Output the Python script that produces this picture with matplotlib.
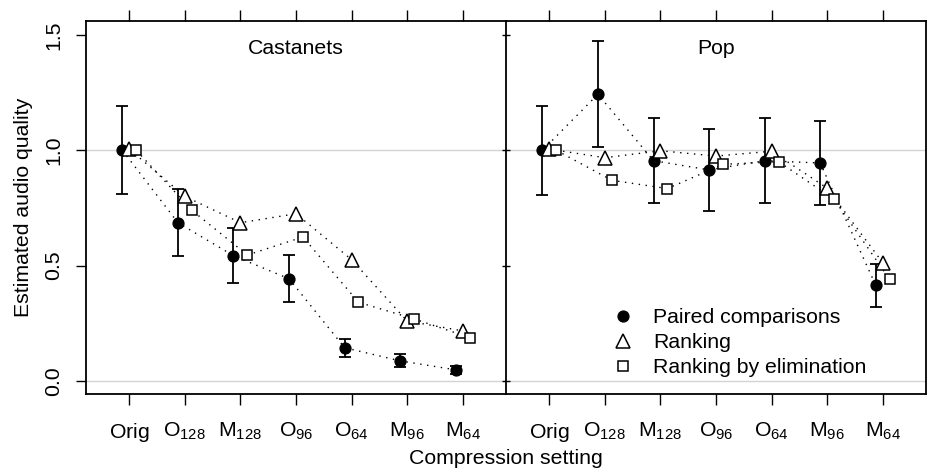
import matplotlib
matplotlib.use("Agg")
import matplotlib.pyplot as plt
import numpy as np
from matplotlib.lines import Line2D

plt.rcParams['font.family'] = ['Liberation Sans', 'DejaVu Sans']
plt.rcParams['mathtext.fontset'] = 'custom'
plt.rcParams['mathtext.rm'] = 'Liberation Sans'
plt.rcParams['mathtext.it'] = 'Liberation Sans'

categories = ['Orig', 'O_{128}', 'M_{128}', 'O_{96}', 'O_{64}', 'M_{96}', 'M_{64}']
tick_labels = [r'$\mathregular{%s}$' % c for c in categories]
panels = ['Castanets', 'Pop']
series_names = ['Paired comparisons', 'Ranking', 'Ranking by elimination']

# Castanets
cas_paired = [1.00, 0.686, 0.543, 0.443, 0.144, 0.087, 0.048]
cas_paired_lo = [0.81, 0.542, 0.423, 0.344, 0.105, 0.062, 0.032]
cas_paired_hi = [1.19, 0.832, 0.662, 0.547, 0.183, 0.117, 0.065]
cas_rank = [1.005, 0.80, 0.686, 0.725, 0.526, 0.26, 0.217]
cas_elim = [1.00, 0.74, 0.546, 0.624, 0.341, 0.269, 0.188]

# Pop
pop_paired = [1.00, 1.243, 0.955, 0.915, 0.955, 0.945, 0.415]
pop_paired_lo = [0.808, 1.014, 0.772, 0.737, 0.772, 0.763, 0.319]
pop_paired_hi = [1.193, 1.472, 1.139, 1.091, 1.139, 1.128, 0.508]
pop_rank = [1.005, 0.968, 0.998, 0.975, 0.996, 0.836, 0.513]
pop_elim = [1.00, 0.870, 0.834, 0.939, 0.951, 0.788, 0.441]

data = {
    'Castanets': (cas_paired, cas_paired_lo, cas_paired_hi, cas_rank, cas_elim),
    'Pop': (pop_paired, pop_paired_lo, pop_paired_hi, pop_rank, pop_elim),
}

W, H = 927, 471
fig = plt.figure(figsize=(W / 100, H / 100), dpi=100)
left_px, sep_px, right_px = 86, 506, 926
top_px, bot_px = 20.7, 394.3
axw = (sep_px - left_px) / W
axh = (bot_px - top_px) / H
axb = (H - bot_px) / H
ax1 = fig.add_axes([left_px / W, axb, axw, axh])
ax2 = fig.add_axes([sep_px / W, axb, (right_px - sep_px) / W, axh])

FS = 15.3
x = np.arange(1, len(categories) + 1)
off = 0.125
dot = (0, (1, 4))

for i, (ax, name) in enumerate(zip([ax1, ax2], panels)):
    p, lo, hi, r, e = [np.array(v) for v in data[name]]
    ax.axhline(1.0, color='#d3d3d3', lw=1.0, zorder=0)
    ax.axhline(0.0, color='#d3d3d3', lw=1.0, zorder=0)
    ax.plot(x - off, p, color='black', lw=1.0, ls=dot, zorder=1)
    ax.plot(x, r, color='black', lw=1.0, ls=dot, zorder=1)
    ax.plot(x + off, e, color='black', lw=1.0, ls=dot, zorder=1)
    ax.errorbar(x - off, p, yerr=[p - lo, hi - p], fmt='none', ecolor='black',
                elinewidth=1.3, capsize=4.5, capthick=1.3, zorder=2)
    ax.plot(x - off, p, 'o', color='black', ms=7.8, zorder=3, ls='none')
    ax.plot(x, r, '^', mfc='white', mec='black', mew=1.1, ms=9.5, zorder=3, ls='none')
    ax.plot(x + off, e, 's', mfc='white', mec='black', mew=1.1, ms=7.0, zorder=3, ls='none')
    ax.set_xlim(0.22, 7.78)
    ax.set_ylim(-0.058, 1.562)
    ax.text(0.5, 0.925, name, transform=ax.transAxes, ha='center', va='center', fontsize=FS)
    ax.set_xticks(x)
    ax.set_xticklabels(tick_labels, fontsize=FS)
    ax.tick_params(axis='x', which='both', top=True, bottom=True, direction='out',
                   length=8, width=1.0, pad=11)
    ax.set_yticks([0.0, 0.5, 1.0, 1.5])
    for s in ax.spines.values():
        s.set_linewidth(1.3)

ax1.set_yticklabels(['0.0', '0.5', '1.0', '1.5'], fontsize=FS, rotation=90, va='center')
ax1.tick_params(axis='y', left=True, right=False, direction='out', length=7.5, width=1.0, pad=9)
ax1.spines['right'].set_visible(False)
ax2.tick_params(axis='y', left=True, right=False, labelleft=False, direction='inout', length=6, width=1.0)
ax1.set_ylabel('Estimated audio quality', fontsize=FS, labelpad=8)
fig.text((left_px + right_px) / 2 / W, 1 - 458 / H, 'Compression setting', ha='center', va='center', fontsize=FS)

handles = [
    Line2D([], [], marker='o', color='black', ls='none', ms=7.8),
    Line2D([], [], marker='^', mfc='white', mec='black', mew=1.1, ls='none', ms=9.5),
    Line2D([], [], marker='s', mfc='white', mec='black', mew=1.1, ls='none', ms=7.0),
]
ax2.legend(handles, series_names, loc='upper left', bbox_to_anchor=(0.249, 0.23),
           frameon=False, fontsize=FS, handlelength=1.2, handletextpad=0.8,
           labelspacing=0.28, borderpad=0, borderaxespad=0)

fig.savefig('out.png', dpi=100)
